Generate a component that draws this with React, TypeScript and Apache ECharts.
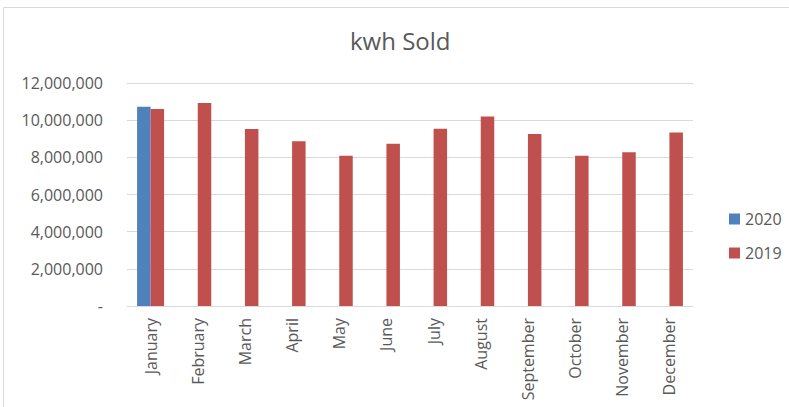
import React, { useEffect, useRef } from "react";
import * as echarts from "echarts";

const categories = [
  "January", "February", "March", "April", "May", "June",
  "July", "August", "September", "October", "November", "December",
];
const series2020 = [10720000, null, null, null, null, null, null, null, null, null, null, null];
const series2019 = [10600000, 10920000, 9520000, 8870000, 8080000, 8730000, 9540000, 10200000, 9250000, 8080000, 8280000, 9340000];
const yMin = 0;
const yMax = 12000000;
const yInterval = 2000000;

const FONT = "'Open Sans', sans-serif";
const TXT = "#595959";

export default function App() {
  const ref = useRef<HTMLDivElement>(null);
  useEffect(() => {
    if (!ref.current) return;
    const chart = echarts.init(ref.current, null, { renderer: "svg" });
    chart.setOption({
      animation: false,
      backgroundColor: "#ffffff",
      title: {
        text: "kwh Sold",
        left: 350,
        top: 28,
        padding: 0,
        textStyle: { fontFamily: FONT, fontSize: 24, fontWeight: "normal", color: TXT },
      },
      graphic: [
        {
          type: "rect",
          shape: { x: 3.5, y: 7.5, width: 820, height: 440 },
          style: { fill: "none", stroke: "#d9d9d9", lineWidth: 1 },
          silent: true,
        },
      ],
      legend: {
        orient: "vertical",
        left: 724,
        top: 206,
        itemWidth: 11,
        itemHeight: 11,
        itemGap: 18,
        icon: "rect",
        textStyle: { fontFamily: FONT, fontSize: 16, color: TXT },
        data: ["2020", "2019"],
      },
      grid: { left: 127, right: 96, top: 83, bottom: 101, containLabel: false },
      xAxis: {
        type: "category",
        data: categories,
        axisLine: { lineStyle: { color: "#d9d9d9", width: 1 } },
        axisTick: { show: false },
        axisLabel: {
          rotate: 90,
          margin: 12,
          interval: 0,
          fontFamily: FONT,
          fontSize: 16,
          color: TXT,
        },
      },
      yAxis: {
        type: "value",
        min: yMin,
        max: yMax,
        interval: yInterval,
        axisLine: { show: false },
        axisTick: { show: false },
        splitLine: { lineStyle: { color: "#d9d9d9", width: 1 } },
        axisLabel: {
          margin: 24,
          fontFamily: FONT,
          fontSize: 16,
          color: TXT,
          formatter: (v: number) => (v === 0 ? "-" : v.toLocaleString("en-US")),
        },
      },
      series: [
        {
          name: "2020",
          type: "bar",
          data: series2020,
          barWidth: 13.5,
          barGap: "0%",
          itemStyle: { color: "#4F81BD" },
        },
        {
          name: "2019",
          type: "bar",
          data: series2019,
          barWidth: 13.5,
          barGap: "0%",
          itemStyle: { color: "#C0504D" },
        },
      ],
    });
    return () => chart.dispose();
  }, []);
  return (
    <div
      ref={ref}
      style={{ position: "fixed", left: 0, top: 0, width: 789, height: 407 }}
    />
  );
}
